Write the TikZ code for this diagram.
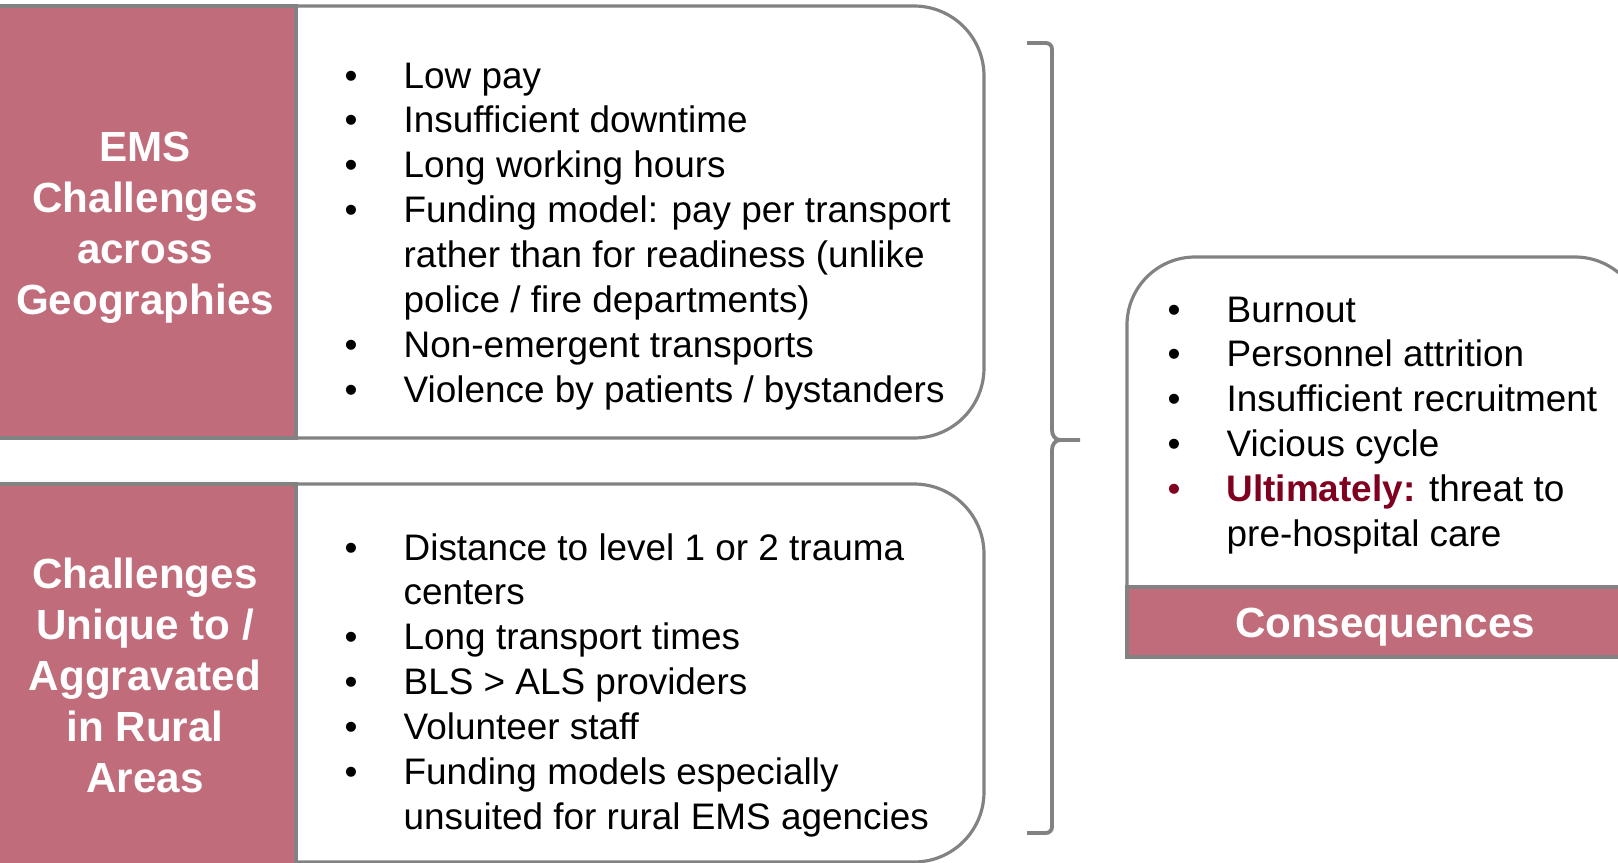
\documentclass[tikz,border=0pt]{standalone}
\usepackage{fontspec}
\setmainfont{Liberation Sans}
\usepackage{xcolor}
\definecolor{emsrose}{RGB}{192,108,122}
\definecolor{emsgray}{RGB}{130,130,130}
\definecolor{emsmaroon}{RGB}{128,0,32}
\usepackage{tikz}
\usetikzlibrary{positioning}

\tikzset{
  boxline/.style={draw=emsgray, line width=0.9pt},
  paneltext/.style={font=\fontsize{12}{14.5}\selectfont\bfseries, text=white, align=center},
  listtext/.style={font=\fontsize{10.5}{12.8}\selectfont, anchor=base west, inner sep=0pt},
}
\newcommand{\bul}{\textbullet}
\newcommand{\redbul}{\textcolor{emsmaroon}{\textbullet}}

\begin{document}
\begin{tikzpicture}
      \useasboundingbox (0,0) rectangle (16.18,8.62);
      % Top box: general challenges
      \draw[boxline, fill=white] (2.96,8.56) -- (9.14,8.56) arc[start angle=90, end angle=0, radius=0.7]
        -- (9.84,4.94) arc[start angle=0, end angle=-90, radius=0.7] -- (2.96,4.24) -- cycle;
      \draw[boxline, fill=emsrose] (-0.1,8.56) rectangle (2.96,4.24);
      \node[paneltext] (emslabel) at (1.45,6.34) {EMS\\Challenges\\across\\Geographies};
      \node[listtext] (emslist) at (3.44,7.74) {\begin{tabular}[t]{@{}p{0.59cm}@{}l@{}}
        \bul & Low pay\\
        \bul & Insufficient downtime\\
        \bul & Long working hours\\
        \bul & Funding model: pay per transport\\
             & rather than for readiness (unlike\\
             & police / fire departments)\\
        \bul & Non-emergent transports\\
        \bul & Violence by patients / bystanders
      \end{tabular}};
      % Bottom box: rural challenges
      \draw[boxline, fill=white] (2.96,3.78) -- (9.14,3.78) arc[start angle=90, end angle=0, radius=0.7]
        -- (9.84,0.7) arc[start angle=0, end angle=-90, radius=0.7] -- (2.96,0) -- cycle;
      \draw[boxline, fill=emsrose] (-0.1,3.78) rectangle (2.96,-0.1);
      \node[paneltext] (rurallabel) at (1.45,1.87) {Challenges\\Unique to /\\Aggravated\\in Rural\\Areas};
      \node[listtext] (rurallist) at (3.44,3.02) {\begin{tabular}[t]{@{}p{0.59cm}@{}l@{}}
        \bul & Distance to level 1 or 2 trauma\\
             & centers\\
        \bul & Long transport times\\
        \bul & BLS > ALS providers\\
        \bul & Volunteer staff\\
        \bul & Funding models especially\\
             & unsuited for rural EMS agencies
      \end{tabular}};
      % Brace
      \coordinate (bracetop) at (10.27,8.19);
      \coordinate (bracetip) at (10.80,4.22);
      \coordinate (bracebot) at (10.27,0.29);
      \draw[boxline, line width=1.1pt] (bracetop) -- (10.46,8.19) to[out=0, in=90] (10.52,8.13)
        -- (10.52,4.32) to[out=-90, in=180] (10.60,4.22) -- (bracetip);
      \draw[boxline, line width=1.1pt] (bracebot) -- (10.46,0.29) to[out=0, in=-90] (10.52,0.35)
        -- (10.52,4.12) to[out=90, in=180] (10.60,4.22);
      % Right box: consequences
      \draw[boxline, fill=white] (11.27,2.05) -- (11.27,5.37) arc[start angle=180, end angle=90, radius=0.68]
        -- (15.75,6.05) arc[start angle=90, end angle=0, radius=0.68] -- (16.43,2.05) -- cycle;
      \draw[boxline, fill=emsrose] (11.27,2.05) rectangle (16.43,2.75);
      \node[paneltext] (conslabel) at (13.85,2.35) {Consequences};
      \node[listtext] (conslist) at (11.67,5.40) {\begin{tabular}[t]{@{}p{0.59cm}@{}l@{}}
        \bul & Burnout\\
        \bul & Personnel attrition\\
        \bul & Insufficient recruitment\\
        \bul & Vicious cycle\\
        \redbul & \textcolor{emsmaroon}{\textbf{Ultimately:}} threat to\\
             & pre-hospital care
      \end{tabular}};
\end{tikzpicture}
\end{document}
